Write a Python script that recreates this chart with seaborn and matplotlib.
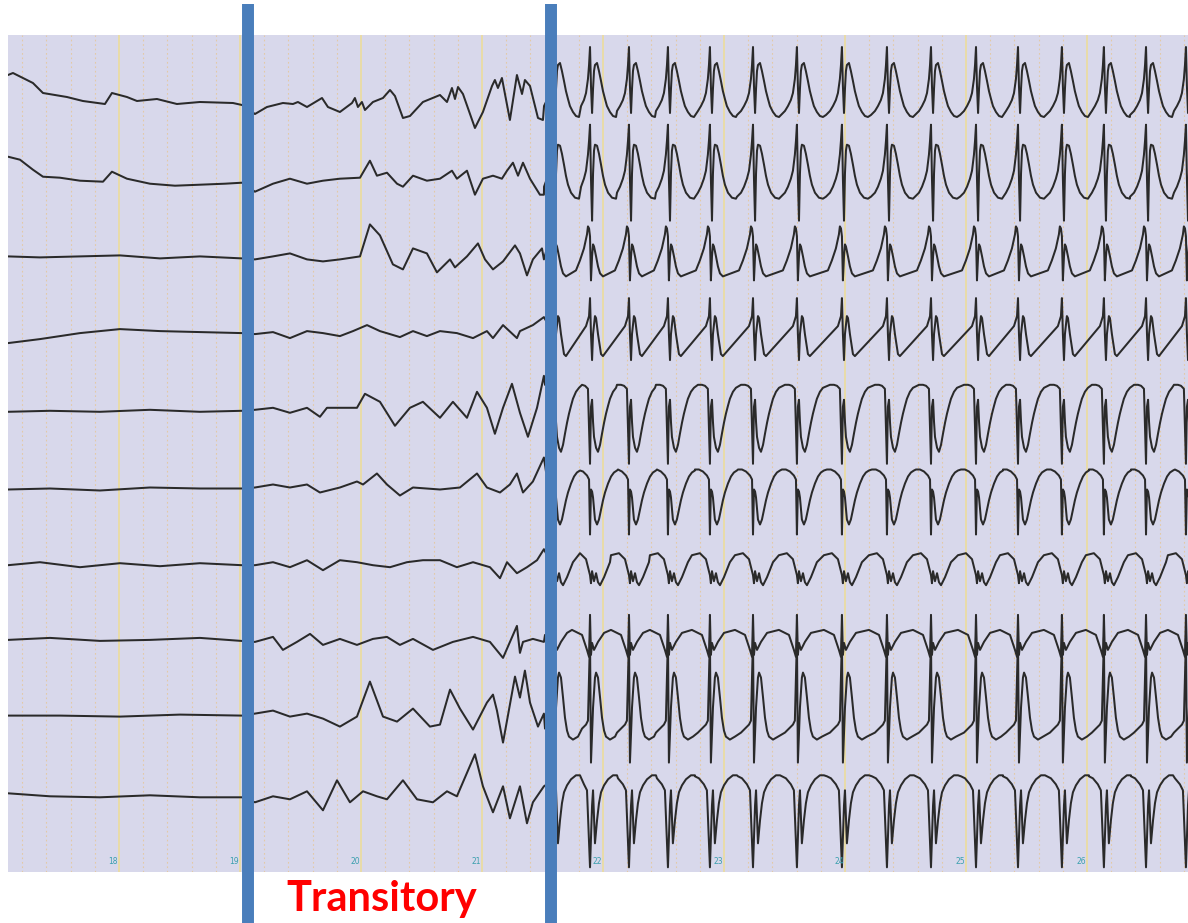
import numpy as np
import pandas as pd
import matplotlib
matplotlib.use("Agg")
import matplotlib.pyplot as plt
import seaborn as sns

# ---------------- data (time in s, amplitude in uV, positive up) ----------------
seconds = [18, 19, 20, 21, 22, 23, 24, 25, 26]
transition_times = [19.07, 21.57]
label_text = "Transitory"

# background + transitory part of each channel: (time, amplitude)
ch1_base = [(17.083, 26), (17.124, 28), (17.289, 18), (17.372, 8), (17.570, 4), (17.702, 0), (17.884, -3),
            (17.942, 8), (18.066, 4), (18.149, 0), (18.314, 2), (18.479, -3), (18.669, -1), (18.942, -2),
            (19.017, -4),
            (19.124, -13), (19.223, -6), (19.355, -2), (19.438, -3), (19.479, -1), (19.554, -6), (19.678, 3),
            (19.727, -6), (19.826, -11), (19.926, -2), (19.950, 3), (19.975, -6), (20.008, -1), (20.033, -9),
            (20.099, -1), (20.182, 3), (20.240, 11), (20.281, 5), (20.347, -17), (20.405, -15), (20.512, -1),
            (20.653, 6), (20.711, -1), (20.752, 13), (20.777, 2), (20.802, 14), (20.843, 7), (20.942, -27),
            (21.008, -11), (21.083, 15), (21.107, 21), (21.132, 13), (21.165, 23), (21.231, -19), (21.289, 26),
            (21.331, 7), (21.355, 21), (21.397, 15), (21.463, -17), (21.504, -19)]
ch2_base = [(17.083, 22), (17.182, 19), (17.289, 9), (17.372, 2), (17.512, 1), (17.678, -2), (17.868, -3),
            (17.942, 7), (18.066, 0), (18.256, -5), (18.463, -7), (18.669, -6), (18.876, -5), (19.017, -4),
            (19.124, -13), (19.273, -5), (19.413, 0), (19.554, -5), (19.686, -2), (19.826, 0), (19.992, 1),
            (20.074, 18), (20.132, 3), (20.215, 6), (20.298, -5), (20.347, -8), (20.430, 3), (20.545, -2),
            (20.653, 0), (20.752, 8), (20.793, 0), (20.876, 8), (20.942, -16), (21.008, 0), (21.091, 3),
            (21.165, 0), (21.207, 8), (21.256, 16), (21.298, 3), (21.339, 16), (21.397, 0), (21.479, -16),
            (21.512, -16)]
ch3_base = [(17.083, 0), (17.347, -1), (17.678, 0), (18.008, 1), (18.339, -2), (18.669, 0), (19.017, -2),
            (19.124, -3), (19.273, 0), (19.413, 3), (19.554, -3), (19.686, -5), (19.826, -3), (19.992, 0),
            (20.074, 32), (20.157, 21), (20.264, -8), (20.347, -13), (20.430, 8), (20.545, 3), (20.628, -16),
            (20.736, -3), (20.777, -11), (20.876, 0), (20.967, 13), (21.025, -3), (21.091, -13), (21.174, -5),
            (21.273, 11), (21.314, 3), (21.372, -19), (21.421, -3), (21.496, 8), (21.512, -3)]
ch4_base = [(17.083, -9), (17.347, -5), (17.678, 1), (18.008, 5), (18.339, 3), (18.669, 2), (19.017, 1),
            (19.124, 0), (19.273, 2), (19.413, -4), (19.554, 3), (19.686, 1), (19.826, -2), (19.934, 3),
            (20.050, 9), (20.157, 3), (20.322, -3), (20.430, 3), (20.545, -2), (20.653, 3), (20.793, 1),
            (20.926, -4), (21.041, 3), (21.091, -4), (21.174, 9), (21.289, -4), (21.314, 3), (21.421, 9),
            (21.512, 17)]
ch5_base = [(17.083, 0), (17.430, 1), (17.843, 0), (18.256, 2), (18.669, 0), (19.017, 1),
            (19.124, 2), (19.273, 4), (19.413, -1), (19.554, 4), (19.661, -5), (19.719, 4), (19.826, 4),
            (19.967, 4), (20.033, 18), (20.157, 10), (20.281, -14), (20.405, 4), (20.512, 10), (20.653, -6),
            (20.760, 10), (20.876, -6), (20.959, 20), (21.041, 4), (21.107, -22), (21.174, 4), (21.248, 28),
            (21.314, -1), (21.380, -25), (21.455, 4), (21.512, 36)]
ch6_base = [(17.083, 0), (17.430, 1), (17.843, -1), (18.256, 2), (18.669, 1), (19.017, 1),
            (19.124, 2), (19.273, 5), (19.413, 2), (19.554, 5), (19.661, -3), (19.826, 2), (19.967, 8),
            (20.017, 5), (20.132, 16), (20.215, 5), (20.322, -6), (20.430, 2), (20.653, 0), (20.818, 2),
            (20.959, 16), (21.041, 2), (21.149, -3), (21.231, 5), (21.289, 16), (21.339, -3), (21.421, 8),
            (21.512, 32)]
ch7_base = [(17.083, 2), (17.347, 5), (17.678, 0), (18.008, 4), (18.339, 1), (18.669, 4), (19.017, 2),
            (19.124, 2), (19.273, 5), (19.413, 0), (19.554, 7), (19.686, -3), (19.826, 7), (19.967, 5),
            (20.099, 2), (20.240, 0), (20.380, 5), (20.512, 7), (20.653, 7), (20.793, 0), (20.926, 5),
            (21.066, 0), (21.149, -11), (21.207, 5), (21.289, -6), (21.372, 0), (21.455, 7), (21.512, 18)]
ch8_base = [(17.083, 5), (17.430, 7), (17.843, 4), (18.256, 5), (18.669, 7), (19.017, 4),
            (19.124, 3), (19.273, 8), (19.355, -5), (19.471, 3), (19.579, 11), (19.686, 0), (19.826, 6),
            (19.967, 0), (20.099, 6), (20.215, 8), (20.322, 0), (20.430, 6), (20.595, -5), (20.760, 3),
            (20.926, 8), (21.066, 3), (21.174, -13), (21.289, 19), (21.314, -8), (21.339, 3), (21.421, 6),
            (21.512, 3)]
ch9_base = [(17.083, 7), (17.512, 7), (18.008, 6), (18.504, 8), (19.017, 7),
            (19.124, 9), (19.273, 12), (19.413, 6), (19.554, 9), (19.686, 4), (19.826, -4), (19.967, 6),
            (20.074, 41), (20.182, 6), (20.298, 1), (20.430, 14), (20.570, -4), (20.653, -2), (20.736, 33),
            (20.818, 14), (20.926, -7), (21.041, 20), (21.091, 28), (21.124, 12), (21.174, -20), (21.273, 46),
            (21.314, 25), (21.355, 52), (21.397, 20), (21.463, -4), (21.512, 9)]
ch10_base = [(17.083, 7), (17.430, 4), (17.843, 3), (18.256, 5), (18.669, 3), (19.017, 3),
             (19.124, -2), (19.273, 4), (19.413, 1), (19.554, 9), (19.686, -10), (19.802, 20), (19.909, -2),
             (20.017, 9), (20.132, 4), (20.215, 1), (20.347, 20), (20.463, 1), (20.595, -2), (20.711, 9),
             (20.793, 4), (20.942, 46), (21.008, 14), (21.091, -12), (21.174, 14), (21.231, -18), (21.314, 14),
             (21.372, -23), (21.421, -2), (21.512, 14)]

# ictal spike-and-wave discharge: spike times (s)
spike_times = [21.587, 21.893, 22.215, 22.537, 22.884, 23.240, 23.603, 23.975,
               24.347, 24.711, 25.083, 25.430, 25.793, 26.140, 26.488, 26.818]

# one spike-wave complex per channel: (offset from spike in ms, amplitude)
ch1_complex = [(-165, -16), (-132, -14), (-99, -10), (-74, -5), (-50, 1), (-33, 8), (-17, 22), (-8, 36),
               (0, 54), (8, 15), (17, -12), (25, 12), (33, 30), (41, 36), (58, 38), (74, 30), (91, 20),
               (107, 10), (124, 2), (140, -5), (165, -11), (190, -15), (215, -16)]
ch2_complex = [(-165, -20), (-132, -18), (-99, -14), (-74, -8), (-50, 0), (-33, 8), (-17, 24), (-8, 38),
               (0, 54), (8, 0), (17, -42), (25, 5), (33, 28), (41, 34), (58, 33), (74, 25), (91, 14),
               (107, 3), (124, -6), (149, -14), (182, -19), (215, -20)]
ch3_complex = [(-116, -14), (-83, -4), (-50, 8), (-25, 22), (-17, 30), (-8, 28), (0, 20), (8, -24),
               (17, 0), (25, 12), (33, 10), (50, 0), (66, -10), (83, -17), (107, -20)]
ch4_complex = [(-33, 8), (-8, 18), (0, 36), (8, 0), (17, -26), (25, 0), (41, 18), (50, 16), (66, 0),
               (91, -20), (107, -22)]
ch5_complex = [(-99, 27), (-66, 27), (-41, 26), (-17, 23), (0, -52), (8, 5), (17, 12), (25, -10),
               (33, -25), (50, -36), (66, -40), (83, -33), (99, -22), (116, -11), (132, -2), (149, 6),
               (165, 13), (190, 20), (215, 24)]
ch6_complex = [(-124, 20), (-91, 20), (-58, 18), (-25, 14), (-8, 10), (0, -45), (8, 0), (17, -2), (25, -8),
               (41, -30), (58, -35), (74, -30), (91, -20), (107, -11), (124, -3), (149, 6), (174, 13),
               (198, 17), (223, 19)]
ch7_complex = [(-149, 12), (-83, 14), (-33, 8), (0, -8), (8, -16), (17, -4), (33, -14), (50, -6), (66, -15),
               (83, -18), (116, -10), (165, 5)]
ch8_complex = [(-149, 15), (-66, 10), (-25, -5), (-8, -12), (0, 30), (8, -10), (17, 2), (33, -5), (66, 3),
               (116, 12)]
ch9_complex = [(-99, -10), (-66, -6), (-33, -2), (-17, 2), (0, 85), (8, -40), (17, -10), (25, 15), (41, 45),
               (50, 50), (66, 45), (83, 25), (99, 5), (116, -8), (132, -14), (165, -17), (207, -14)]
ch10_complex = [(-124, 24), (-91, 22), (-50, 16), (-25, 10), (0, -67), (17, -5), (25, 10), (41, -43),
                (58, -20), (74, -3), (91, 8), (116, 15), (149, 21), (190, 25), (223, 25)]

channels = [
    ("Ch1", ch1_base, ch1_complex), ("Ch2", ch2_base, ch2_complex), ("Ch3", ch3_base, ch3_complex),
    ("Ch4", ch4_base, ch4_complex), ("Ch5", ch5_base, ch5_complex), ("Ch6", ch6_base, ch6_complex),
    ("Ch7", ch7_base, ch7_complex), ("Ch8", ch8_base, ch8_complex), ("Ch9", ch9_base, ch9_complex),
    ("Ch10", ch10_base, ch10_complex),
]

# ---------------- layout ----------------
W, H = 1188, 923
top_px, bot_px, left_px = 35, 872, 8
first_base, spacing = 101, 77.7
x_min, x_max = 17.083, 26.835

rows = []
for i, (name, base, cpx) in enumerate(channels):
    pts = list(base)
    last_t = pts[-1][0]
    for s in spike_times:
        for dt, a in cpx:
            t = s + dt / 1000.0
            if t > last_t:
                pts.append((t, a))
                last_t = t
    off = first_base + spacing * i
    for t, a in pts:
        rows.append({"ch": name, "t": t, "y": off - a})
df = pd.DataFrame(rows)

sns.set_style("white")
plt.rcParams["font.family"] = ["Lato", "DejaVu Sans"]

fig = plt.figure(figsize=(W / 100, H / 100), dpi=100)
fig.patch.set_facecolor("white")
ax = fig.add_axes([left_px / W, (H - bot_px) / H, (W - left_px) / W, (bot_px - top_px) / H])
ax.set_facecolor("#d8d8eb")

# grid: minor dotted every 0.2 s, major solid every second
minor = [x for x in np.arange(17.2, 26.9, 0.2) if abs(x - round(x)) > 0.05]
ax.vlines(minor, bot_px, top_px, colors="#e3c9a6", linestyles=(0, (1.5, 2.5)), linewidth=0.8, zorder=1)
ax.vlines(seconds, bot_px, top_px, colors="#eadca2", linewidth=1.3, zorder=1)

sns.lineplot(data=df, x="t", y="y", units="ch", estimator=None, sort=False,
             color="#2a2a2a", linewidth=1.45, ax=ax, legend=False, zorder=3)

ax.set_xlim(x_min, x_max)
ax.set_ylim(bot_px, top_px)
ax.set_xticks([])
ax.set_yticks([])
ax.set_xlabel("")
ax.set_ylabel("")
for sp in ax.spines.values():
    sp.set_visible(False)

for s in seconds:
    ax.text(s - 0.05, bot_px - 11, str(s), fontsize=5.5, color="#3a9fae",
            ha="center", va="center", zorder=4, family="DejaVu Sans")

for t in transition_times:
    ax.axvline(t, ymin=-(H - bot_px) / (bot_px - top_px), ymax=1 + (top_px - 4) / (bot_px - top_px),
               color="#4a7ebb", linewidth=8.6, clip_on=False, zorder=6, solid_capstyle="butt")

ax.text(20.17, bot_px + 27, label_text, color="#ff0000", fontsize=30,
        fontweight="bold", ha="center", va="center", clip_on=False, zorder=7)

fig.savefig("out.png", dpi=100)
